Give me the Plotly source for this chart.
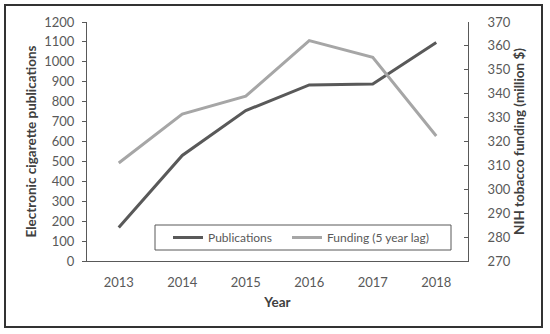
import plotly.graph_objects as go

years = ["2013", "2014", "2015", "2016", "2017", "2018"]
publications = [168, 530, 755, 884, 889, 1097]
funding = [311.0, 331.5, 339.0, 362.2, 355.2, 322.3]

left_ticks = list(range(0, 1300, 100))
right_ticks = list(range(270, 380, 10))

W, H = 550, 334
L, R, T, B = 87, 82, 22, 73
FONT = "Lato"
TICK_COLOR = "#595959"
TITLE_COLOR = "#404040"

fig = go.Figure()
fig.add_trace(go.Scatter(
    x=years, y=publications, name="Publications", mode="lines",
    line=dict(color="#595959", width=3), legend="legend",
))
fig.add_trace(go.Scatter(
    x=years, y=funding, name="Funding (5 year lag)", mode="lines",
    line=dict(color="#a6a6a6", width=3), yaxis="y2", legend="legend2",
))


def px_to_paper(xp, yp):
    pw = W - L - R
    ph = H - T - B
    return (xp - L) / pw, (H - B - yp) / ph


# outer frame of the picture
x0, y0 = px_to_paper(5, 327)
x1, y1 = px_to_paper(542, 5)
fig.add_shape(type="rect", xref="paper", yref="paper", x0=x0, y0=y0, x1=x1, y1=y1,
              line=dict(color="#333333", width=2), layer="below")

# legend box (two legends sit inside it)
bx0, by0 = px_to_paper(155, 250)
bx1, by1 = px_to_paper(451, 225)
fig.add_shape(type="rect", xref="paper", yref="paper", x0=bx0, y0=by0, x1=bx1, y1=by1,
              line=dict(color="#595959", width=1), fillcolor="white", layer="above")

lx1, ly = px_to_paper(168, 237.5)
lx2, _ = px_to_paper(287, 237.5)
leg_style = dict(
    orientation="h", xanchor="left", y=ly, yanchor="middle",
    borderwidth=0, bgcolor="rgba(0,0,0,0)",
    font=dict(family=FONT, size=12, color=TICK_COLOR),
    itemwidth=30,
)

fig.update_layout(
    width=W, height=H,
    margin=dict(l=L, r=R, t=T, b=B, autoexpand=False),
    paper_bgcolor="white", plot_bgcolor="white",
    font=dict(family=FONT, size=12, color=TICK_COLOR),
    showlegend=True,
    legend=dict(x=lx1, **leg_style),
    legend2=dict(x=lx2, **leg_style),
    xaxis=dict(
        type="category", range=[-0.5, 5.5], automargin=False,
        showline=True, linecolor="#595959", linewidth=1,
        showgrid=False, ticks="", ticklabelstandoff=9,
        tickfont=dict(size=13),
        title=dict(text="Year", font=dict(family=FONT, size=13.5, color=TITLE_COLOR, weight="bold"),
                   standoff=8),
    ),
    yaxis=dict(
        range=[0, 1200], tickvals=left_ticks, automargin=False,
        showline=True, linecolor="#595959", linewidth=1,
        showgrid=False, zeroline=False,
        ticks="outside", ticklen=4, tickcolor="#595959",
        ticklabelstandoff=5, tickfont=dict(size=13),
        title=dict(text="Electronic cigarette publications",
                   font=dict(family=FONT, size=13.5, color=TITLE_COLOR, weight="bold"),
                   standoff=4),
    ),
    yaxis2=dict(
        overlaying="y", side="right", automargin=False,
        range=[270, 370], tickvals=right_ticks,
        showline=True, linecolor="#595959", linewidth=1,
        showgrid=False, zeroline=False,
        ticks="inside", ticklen=4, tickcolor="#595959",
        ticklabelstandoff=16, tickfont=dict(size=13),
        title=dict(text="NIH tobacco funding (million $)",
                   font=dict(family=FONT, size=13.5, color=TITLE_COLOR, weight="bold"),
                   standoff=3),
    ),
)

# the page's default body margin would shift the figure
fig.write_html("out.html", config={"displayModeBar": False},
               post_script="document.body.style.margin='0';")
